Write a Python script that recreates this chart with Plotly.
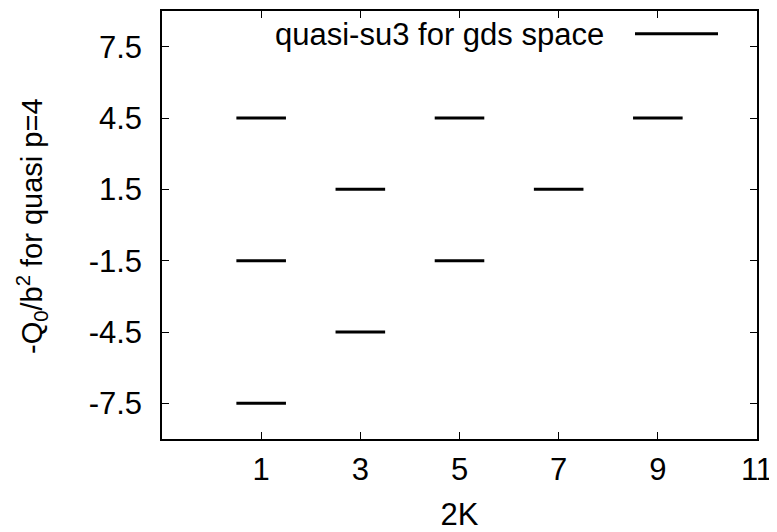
import plotly.graph_objects as go

# data
two_k = [1, 1, 1, 3, 3, 5, 5, 7, 9]
q0 = [4.5, -1.5, -7.5, 1.5, -4.5, 4.5, -1.5, 1.5, 4.5]
x_ticks = [1, 3, 5, 7, 9, 11]
y_ticks = [7.5, 4.5, 1.5, -1.5, -4.5, -7.5]
y_tick_labels = ["7.5", "4.5", "1.5", "-1.5", "-4.5", "-7.5"]
series_name = "quasi-su3 for gds space"

half = 0.5
xs, ys = [], []
for k, q in zip(two_k, q0):
    xs += [k - half, k + half, None]
    ys += [q, q, None]

FONT = "Liberation Sans, Arial, sans-serif"
FS = 31
# page has an 8px body margin
W, H = 769, 524
L, R, T, B = 154, 20, 1, 91
PW, PH = W - L - R, H - T - B

def px_x(px):  # page px -> paper
    return (px - 8 - L) / PW

def px_y(py):
    return 1 - (py - 8 - T) / PH

fig = go.Figure()
fig.add_trace(go.Scatter(x=xs, y=ys, mode="lines",
                         line=dict(color="black", width=3),
                         showlegend=False, hoverinfo="skip"))

# legend drawn gnuplot-style
fig.add_annotation(xref="paper", yref="paper", x=px_x(606), y=px_y(33),
                   text=series_name, showarrow=False, xanchor="right", yanchor="middle",
                   font=dict(family=FONT, size=FS, color="black"))
fig.add_shape(type="line", xref="paper", yref="paper",
              x0=px_x(635), x1=px_x(718), y0=px_y(32), y1=px_y(32),
              line=dict(color="black", width=3))

# y-axis title
fig.add_annotation(xref="paper", yref="paper", x=px_x(32), y=px_y(226),
                   text="-Q<sub>0</sub>/b<sup>2</sup> for quasi p=4", textangle=-90,
                   showarrow=False, xanchor="center", yanchor="middle",
                   font=dict(family=FONT, size=29, color="black"))

fig.update_layout(
    width=W, height=H,
    margin=dict(l=L, r=R, t=T, b=B),
    paper_bgcolor="white", plot_bgcolor="white",
    font=dict(family=FONT, size=FS, color="black"),
    xaxis=dict(range=[-1, 11], tickvals=x_ticks, ticks="inside", ticklen=7,
               tickcolor="black", showline=True, linecolor="black", linewidth=1.5,
               mirror="allticks", showgrid=False, zeroline=False,
               tickfont=dict(family=FONT, size=FS, color="black"),
               title=dict(text="2K", standoff=22, font=dict(family=FONT, size=FS)),
               ticklabelstandoff=2),
    yaxis=dict(range=[-9, 9], tickvals=y_ticks, ticktext=y_tick_labels,
               ticks="inside", ticklen=7, tickcolor="black",
               showline=True, linecolor="black", linewidth=1.5, mirror="allticks",
               showgrid=False, zeroline=False, ticklabelstandoff=12,
               tickfont=dict(family=FONT, size=FS, color="black")),
)

fig.write_html("out.html")
